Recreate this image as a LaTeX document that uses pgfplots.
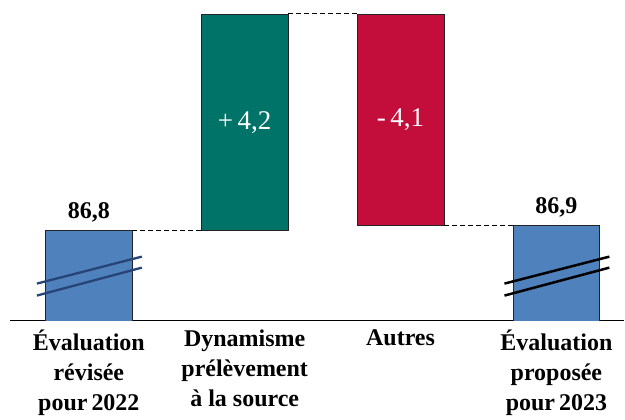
\documentclass[border=0pt]{standalone}
\usepackage{fontspec}
\setmainfont{Liberation Serif}
\usepackage{pgfplots}
\pgfplotsset{compat=1.18}
\definecolor{cblue}{RGB}{79,129,189}
\definecolor{cgreen}{RGB}{0,115,104}
\definecolor{cred}{RGB}{195,13,58}
\definecolor{cedge}{RGB}{35,35,35}
\definecolor{cbreak}{RGB}{38,68,118}
\begin{document}
\begin{tikzpicture}
\begin{axis}[
  scale only axis, width=615pt, height=321pt,
  xmin=-0.506, xmax=3.436, ymin=85.06, ymax=91.27,
  axis y line=none, axis x line=bottom,
  axis line style={black, line width=1.3pt, -},
  ybar stacked, bar width=0.557,
  xtick={0,1,2,3},
  xticklabels={{Évaluation\\révisée\\pour\,2022},{Dynamisme\\prélèvement\\à la source},{Autres},{Évaluation\\proposée\\pour\,2023}},
  xticklabel style={align=center, font=\fontsize{24}{30}\selectfont\bfseries, yshift=-6pt},
  major tick length=0pt,
  ytick=\empty,
  after end axis/.append code={
    \draw[dash pattern=on 5pt off 3pt, line width=1.1pt] (axis cs:0.2785,86.8) -- (axis cs:0.7215,86.8);
    \draw[dash pattern=on 5pt off 3pt, line width=1.1pt] (axis cs:1.2785,91.0) -- (axis cs:1.7215,91.0);
    \draw[dash pattern=on 5pt off 3pt, line width=1.1pt] (axis cs:2.2785,86.9) -- (axis cs:2.7215,86.9);
    \draw[cbreak, line width=2.3pt] (axis cs:-0.333,85.777) -- (axis cs:0.340,86.299);
    \draw[cbreak, line width=2.3pt] (axis cs:-0.333,85.545) -- (axis cs:0.340,86.086);
    \draw[black, line width=2.5pt] (axis cs:2.667,85.777) -- (axis cs:3.340,86.299);
    \draw[black, line width=2.5pt] (axis cs:2.667,85.545) -- (axis cs:3.340,86.086);
    \node[above, font=\fontsize{24}{24}\selectfont\bfseries, inner sep=0pt, yshift=8pt] at (axis cs:0,86.8) {86,8};
    \node[above, font=\fontsize{24}{24}\selectfont\bfseries, inner sep=0pt, yshift=8pt] at (axis cs:3,86.9) {86,9};
    \node[white, font=\fontsize{27}{27}\selectfont] at (axis cs:1,88.9) {+\,4,2};
    \node[white, font=\fontsize{27}{27}\selectfont] at (axis cs:2,88.95) {-\,4,1};
  },
]
\addplot[draw=none, fill=none] coordinates {(0,0) (1,86.8) (2,86.9) (3,0)};
\addplot[fill=cblue, draw=cedge, line width=0.7pt] coordinates {(0,86.8) (1,0) (2,0) (3,86.9)};
\addplot[fill=cgreen, draw=cedge, line width=0.7pt] coordinates {(0,0) (1,4.2) (2,0) (3,0)};
\addplot[fill=cred, draw=cedge, line width=0.7pt] coordinates {(0,0) (1,0) (2,4.1) (3,0)};
\end{axis}
\path ([xshift=-10pt]current axis.south west) -- (current axis.north east);
\end{tikzpicture}
\end{document}
